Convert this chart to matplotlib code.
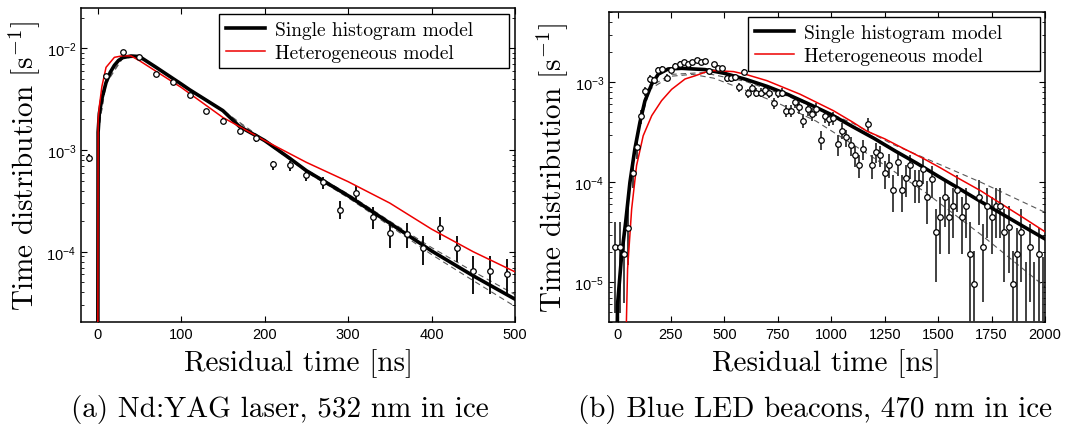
import numpy as np
import matplotlib
matplotlib.use("Agg")
import matplotlib.pyplot as plt

plt.rcParams['font.family'] = ['Liberation Sans', 'DejaVu Sans']

# ---- (a) Nd:YAG laser, 532 nm ----
laser_t = [-10, 10, 30, 50, 70, 90, 110, 130, 150, 170, 190, 210, 230,
           250, 270, 290, 310, 330, 350, 370, 390, 410, 430, 450, 470, 490]
laser_y = [8.3e-4, 5.4e-3, 9.3e-3, 8.15e-3, 5.6e-3, 4.7e-3, 3.47e-3, 2.4e-3,
           1.95e-3, 1.55e-3, 1.30e-3, 7.3e-4, 7.1e-4, 5.7e-4, 4.9e-4, 2.6e-4,
           3.8e-4, 2.18e-4, 1.53e-4, 1.51e-4, 1.09e-4, 1.73e-4, 1.09e-4,
           6.5e-5, 6.5e-5, 6.0e-5]
laser_lo = [7.57e-4, 5.2e-3, 9.0e-3, 7.9e-3, 5.4e-3, 4.5e-3, 3.3e-3, 2.27e-3,
            1.83e-3, 1.44e-3, 1.20e-3, 6.41e-4, 6.27e-4, 4.99e-4, 4.13e-4,
            2.10e-4, 3.18e-4, 1.67e-4, 1.10e-4, 1.10e-4, 7.4e-5, 1.31e-4,
            7.86e-5, 3.84e-5, 3.84e-5, 3.69e-5]
laser_hi = [9.14e-4, 5.6e-3, 9.6e-3, 8.4e-3, 5.8e-3, 4.9e-3, 3.65e-3, 2.53e-3,
            2.07e-3, 1.66e-3, 1.40e-3, 7.85e-4, 7.85e-4, 6.41e-4, 5.38e-4,
            3.18e-4, 4.46e-4, 2.73e-4, 1.97e-4, 1.91e-4, 1.42e-4, 2.18e-4,
            1.42e-4, 9.14e-5, 9.14e-5, 8.48e-5]

laser_single_t = [0, 0.5, 2, 5, 10, 15, 20, 25, 30, 40, 50, 70, 100, 110, 150,
                  170, 190, 200, 230, 250, 300, 350, 400, 450, 500]
laser_single_y = [1e-6, 1.5e-3, 2.3e-3, 3.2e-3, 4.6e-3, 5.8e-3, 6.8e-3, 7.6e-3,
                  8.1e-3, 8.4e-3, 8.3e-3, 6.5e-3, 4.46e-3, 3.92e-3, 2.44e-3,
                  1.70e-3, 1.38e-3, 1.24e-3, 8.3e-4, 6.27e-4, 3.56e-4, 1.91e-4,
                  1.02e-4, 5.8e-5, 3.42e-5]

laser_het_t = [0, 0.5, 2, 5, 10, 20, 30, 40, 50, 100, 150, 190, 200, 250, 300,
               350, 400, 450, 500]
laser_het_y = [1e-6, 2.0e-3, 2.7e-3, 4.2e-3, 6.5e-3, 8.15e-3, 8.45e-3, 8.4e-3,
               7.56e-3, 4.13e-3, 2.09e-3, 1.38e-3, 1.24e-3, 7.57e-4, 4.89e-4,
               3.01e-4, 1.67e-4, 1.0e-4, 6.35e-5]

laser_band_t = [0.5, 10, 30, 50, 100, 150, 200, 250, 300, 350, 400, 450, 500]
laser_band_up = [1.5e-3, 4.6e-3, 8.2e-3, 8.3e-3, 4.5e-3, 2.45e-3, 1.25e-3,
                 6.4e-4, 3.7e-4, 2.0e-4, 1.1e-4, 6.4e-5, 3.8e-5]
laser_band_dn = [1.5e-3, 4.5e-3, 8.0e-3, 8.2e-3, 4.4e-3, 2.42e-3, 1.22e-3,
                 6.1e-4, 3.4e-4, 1.8e-4, 9.4e-5, 5.2e-5, 2.9e-5]

# ---- (b) LED beacons, 470 nm ----
led_t = [-10, 10, 30, 50, 70, 90, 110, 130, 150, 170, 190, 210, 230, 250,
         270, 290, 310, 330, 350, 370, 390, 410, 430, 450, 470, 490, 510,
         530, 550, 570, 590, 610, 630, 650, 670, 690, 710, 730, 750, 770,
         790, 810, 830, 850, 870, 890, 910, 930, 950, 970, 990, 1010, 1030,
         1050, 1070, 1090, 1110, 1130, 1150, 1170, 1190, 1210, 1230, 1250,
         1270, 1290, 1310, 1330, 1350, 1370, 1390, 1410, 1430, 1450, 1470,
         1490, 1510, 1530, 1550, 1570, 1590, 1610, 1630, 1650, 1670, 1690,
         1710, 1730, 1750, 1770, 1790, 1810, 1830, 1850, 1870, 1890, 1910,
         1930, 1950, 1970, 1990]
led_y = [2.24e-5, 2.24e-5, 1.92e-5, 3.5e-5, 1.24e-4, 2.27e-4, 4.57e-4, 8.1e-4,
         1.08e-3, 1.05e-3, 1.34e-3, 1.35e-3, 1.11e-3, 1.32e-3, 1.47e-3,
         1.54e-3, 1.58e-3, 1.51e-3, 1.60e-3, 1.68e-3, 1.60e-3, 1.63e-3,
         1.30e-3, 1.51e-3, 1.40e-3, 1.38e-3, 1.10e-3, 1.10e-3, 1.12e-3,
         8.9e-4, 1.28e-3, 7.8e-4, 8.8e-4, 7.9e-4, 7.9e-4, 8.4e-4, 7.8e-4,
         6.2e-4, 7.8e-4, 7.9e-4, 5.2e-4, 5.2e-4, 6.3e-4, 5.6e-4, 4.13e-4,
         5.4e-4, 4.82e-4, 5.4e-4, 2.67e-4, 4.64e-4, 4.3e-4, 4.36e-4, 2.4e-4,
         3.28e-4, 2.82e-4, 2.34e-4, 1.87e-4, 1.49e-4, 2.14e-4, 3.8e-4,
         1.49e-4, 2.0e-4, 1.88e-4, 1.24e-4, 1.50e-4, 8.4e-5, 1.58e-4, 8.4e-5,
         1.10e-4, 1.49e-4, 9.8e-5, 9.8e-5, 1.36e-4, 7.1e-5, 1.08e-4, 3.2e-5,
         4.5e-5, 7.1e-5, 4.5e-5, 5.8e-5, 8.4e-5, 4.5e-5, 5.8e-5, 1.92e-5,
         9.6e-6, 7.1e-5, 2.24e-5, 5.8e-5, 4.5e-5, 5.8e-5, 5.8e-5, 3.2e-5,
         3.55e-5, 9.6e-6, 1.92e-5, 3.2e-5, 0.0, 2.24e-5, 0.0, 1.92e-5, 0.0]
led_err = [1.75e-5, 1.75e-5, 1.3e-5, 2.0e-5, 3.7e-5, 5.5e-5, 7.0e-5, 8.0e-5,
           9.0e-5, 9.0e-5, 9.0e-5, 9.0e-5, 9.0e-5, 9.0e-5, 9.0e-5, 9.0e-5,
           9.0e-5, 9.0e-5, 9.0e-5, 9.0e-5, 9.0e-5, 9.0e-5, 9.0e-5, 9.0e-5,
           9.0e-5, 9.0e-5, 9.0e-5, 9.0e-5, 9.0e-5, 8.5e-5, 9.0e-5, 8.5e-5,
           8.5e-5, 8.5e-5, 8.5e-5, 8.5e-5, 8.5e-5, 8.0e-5, 8.5e-5, 8.5e-5,
           7.5e-5, 7.5e-5, 8.0e-5, 7.5e-5, 6.5e-5, 7.5e-5, 7.0e-5, 7.5e-5,
           5.5e-5, 7.0e-5, 6.5e-5, 6.5e-5, 5.5e-5, 6.0e-5, 5.5e-5, 5.0e-5,
           4.5e-5, 3.8e-5, 4.8e-5, 6.0e-5, 4.0e-5, 4.5e-5, 4.5e-5, 3.8e-5,
           4.0e-5, 3.4e-5, 4.2e-5, 3.4e-5, 3.8e-5, 4.0e-5, 3.6e-5, 3.6e-5,
           4.0e-5, 3.3e-5, 3.8e-5, 2.2e-5, 2.6e-5, 3.5e-5, 2.6e-5, 3.0e-5,
           3.4e-5, 2.6e-5, 3.0e-5, 2.1e-5, 1.1e-5, 3.4e-5, 1.6e-5, 3.0e-5,
           2.6e-5, 3.0e-5, 3.0e-5, 2.2e-5, 2.3e-5, 1.1e-5, 1.6e-5, 2.2e-5,
           1.6e-5, 1.6e-5, 1.6e-5, 1.6e-5, 1.8e-5]

led_single_t = [-5, 0, 19, 38, 58, 81, 105, 128, 160, 191, 237, 300, 409,
                500, 600, 700, 800, 900, 1000, 1100, 1200, 1300, 1400, 1500,
                1600, 1700, 1800, 1900, 2000]
led_single_y = [1e-6, 6e-6, 1.85e-5, 4.0e-5, 1.0e-4, 2.15e-4, 4.0e-4, 6.5e-4,
                9.6e-4, 1.21e-3, 1.36e-3, 1.38e-3, 1.34e-3, 1.23e-3, 1.07e-3,
                9.1e-4, 7.5e-4, 6.0e-4, 4.75e-4, 3.6e-4, 2.75e-4, 2.05e-4,
                1.55e-4, 1.15e-4, 8.6e-5, 6.4e-5, 4.8e-5, 3.6e-5, 2.71e-5]

led_het_t = [35, 47, 66, 89, 120, 160, 206, 253, 316, 362, 409, 450, 542,
             600, 698, 854, 1010, 1100, 1166, 1250, 1330, 1424, 1509, 1600,
             1700, 1800, 1900, 2000]
led_het_y = [1e-6, 1.36e-5, 5.4e-5, 1.47e-4, 2.92e-4, 4.64e-4, 6.55e-4,
             8.5e-4, 1.08e-3, 1.16e-3, 1.26e-3, 1.31e-3, 1.28e-3, 1.2e-3,
             1.04e-3, 7.6e-4, 5.2e-4, 4.0e-4, 3.25e-4, 2.72e-4, 2.22e-4,
             1.76e-4, 1.40e-4, 1.08e-4, 8.2e-5, 6.0e-5, 4.4e-5, 3.2e-5]

led_band_up_t = [100, 150, 250, 400, 600, 800, 1000, 1100, 1283, 1485, 1700, 2000]
led_band_up_y = [3.6e-4, 9.0e-4, 1.2e-3, 1.25e-3, 1.02e-3, 7.2e-4, 4.8e-4,
                 3.9e-4, 2.42e-4, 1.58e-4, 1.0e-4, 5.0e-5]
led_band_dn_t = [100, 150, 250, 350, 450, 570, 750, 928, 1174, 1438, 1700, 2000]
led_band_dn_y = [3.5e-4, 8.5e-4, 1.15e-3, 1.2e-3, 1.1e-3, 8.8e-4, 6.2e-4,
                 4.1e-4, 1.9e-4, 8.0e-5, 3.0e-5, 9.0e-6]

LABEL_FONT = dict(fontfamily='cmr10', math_fontfamily='cm', fontsize=21)


def draw_panel(ax, t, y, lo, hi, st, sy, ht, hy, bands, bar_color, leg_box):
    for bt, by in bands:
        ax.plot(bt, by, color='0.35', lw=0.8, dashes=(5, 3.5), zorder=2)
    ax.vlines(t, lo, hi, color=bar_color, lw=1.3, zorder=3)
    ax.plot(st, sy, color='black', lw=2.6, zorder=4,
            label='Single histogram model')
    ax.plot(ht, hy, color='#ee0000', lw=1.1, zorder=5,
            label='Heterogeneous model')
    yy = np.array(y, dtype=float)
    tt = np.array(t, dtype=float)
    keep = yy > 0
    ax.plot(tt[keep], yy[keep], 'o', ms=4, mfc='white', mec='black',
            mew=0.9, zorder=6)
    ax.set_yscale('log')
    ax.tick_params(which='both', direction='in', top=True, right=True,
                   labelsize=10.5)
    ax.tick_params(which='major', length=4.5, width=0.8)
    ax.tick_params(which='minor', length=2.5, width=0.6)
    for s in ax.spines.values():
        s.set_linewidth(1.1)
    ax.set_xlabel('Residual time [ns]', labelpad=5, **LABEL_FONT)
    ax.set_ylabel('Time distribution [s$^{-1}$]', labelpad=3, **LABEL_FONT)
    # legend box stretched to a fixed width, entries kept on the left
    leg = ax.legend(loc='upper left', bbox_to_anchor=leg_box, mode='expand',
                    prop={'family': 'cmr10', 'size': 14},
                    fancybox=False, framealpha=1, edgecolor='black',
                    borderaxespad=0, handlelength=2.0, handletextpad=0.55,
                    borderpad=0.35, labelspacing=0.25)
    leg.get_frame().set_linewidth(1.0)
    leg.set_zorder(10)


fig = plt.figure(figsize=(10.67, 4.35), dpi=100)
W, H = 1067.0, 435.0
ax1 = fig.add_axes([81 / W, 1 - 323 / H, (515 - 81) / W, (323 - 9) / H])
ax2 = fig.add_axes([609 / W, 1 - 323 / H, (1045 - 609) / W, (323 - 13) / H])

draw_panel(ax1, laser_t, laser_y, laser_lo, laser_hi,
           laser_single_t, laser_single_y, laser_het_t, laser_het_y,
           [(laser_band_t, laser_band_up), (laser_band_t, laser_band_dn)],
           'black', (0.318, 0.0, 0.668, 0.981))
ax1.set_xlim(-20, 500)
ax1.set_ylim(2.04e-5, 2.49e-2)
ax1.set_xticks([0, 100, 200, 300, 400, 500])

led_lo = [max(v - e, 1e-8) for v, e in zip(led_y, led_err)]
led_hi = [v + e for v, e in zip(led_y, led_err)]
draw_panel(ax2, led_t, led_y, led_lo, led_hi,
           led_single_t, led_single_y, led_het_t, led_het_y,
           [(led_band_up_t, led_band_up_y), (led_band_dn_t, led_band_dn_y)],
           '#333333', (0.319, 0.0, 0.670, 0.984))
ax2.set_xlim(-40, 2000)
ax2.set_ylim(4.0e-6, 5.05e-3)
ax2.set_xticks([0, 250, 500, 750, 1000, 1250, 1500, 1750, 2000])

fig.text(280 / W, 1 - 410 / H, '(a) Nd:YAG laser, 532 nm in ice',
         ha='center', va='center', fontfamily='cmr10', fontsize=21)
fig.text(815 / W, 1 - 410 / H, '(b) Blue LED beacons, 470 nm in ice',
         ha='center', va='center', fontfamily='cmr10', fontsize=21)

fig.savefig('out.png', dpi=100)
